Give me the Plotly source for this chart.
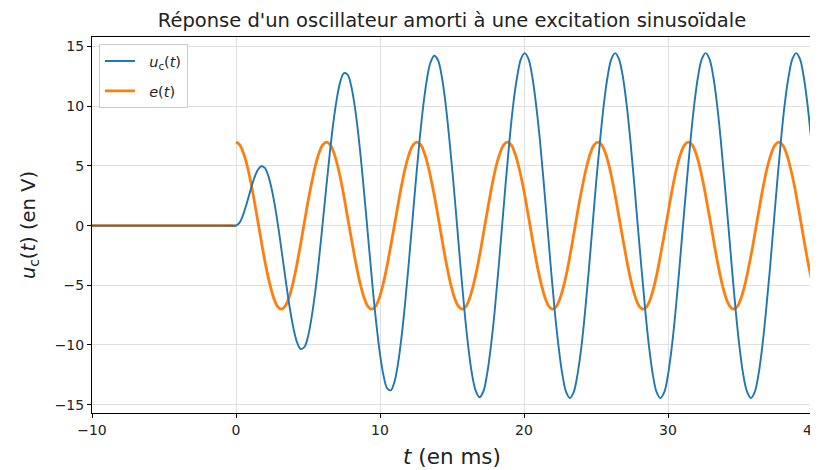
import plotly.graph_objects as go

# ---- data ----
# capacitor voltage u_c(t) (V), time t in ms
t_u_rest = [-10, -5, -0.5]
u_c_rest = [0, 0, 0]

t_u_start = [0.0, 0.25, 0.5, 0.75, 1.0, 1.25, 1.5, 1.75, 2.0, 2.25, 2.5, 2.75, 3.0, 3.25,
             3.5, 3.75, 4.0, 4.25, 4.5, 4.75, 5.0, 5.25, 5.5, 5.75, 6.0, 6.25, 6.5, 6.75,
             7.0, 7.25, 7.5, 7.75, 8.0, 8.25, 8.5, 8.75, 9.0, 9.25, 9.5, 9.75, 10.0, 10.25,
             10.5, 10.75, 11.0, 11.25, 11.5, 11.75, 12.0, 12.25, 12.5, 12.75, 13.0, 13.25, 13.5]
u_c_start = [0.0, 0.25, 0.92, 1.88, 2.93, 3.91, 4.63, 4.97, 4.83, 4.14, 2.94, 1.32, -0.66, -2.83,
             -5.0, -7.01, -8.65, -9.81, -10.34, -10.17, -9.30, -7.69, -5.58, -2.97, -0.03, 2.98, 5.91, 8.55,
             10.62, 12.08, 12.77, 12.65, 11.70, 9.98, 7.58, 4.67, 1.40, -1.98, -5.30, -8.28, -10.77, -12.59,
             -13.63, -13.80, -13.10, -11.57, -9.28, -6.41, -3.11, 0.40, 3.90, 7.17, 9.99, 12.20, 13.64]

t_u_late = [13.77, 14.03, 14.29, 14.55, 14.81, 15.08, 15.34, 15.60, 15.86, 16.12, 16.38, 16.65,
            16.91, 17.17, 17.43, 17.69, 17.96, 18.22, 18.48, 18.74, 19.00, 19.26, 19.53, 19.79,
            20.05, 20.31, 20.57, 20.83, 21.10, 21.36, 21.62, 21.88, 22.14, 22.41, 22.67, 22.93,
            23.19, 23.45, 23.71, 23.98, 24.24, 24.50, 24.76, 25.02, 25.29, 25.55, 25.81, 26.07,
            26.33, 26.59, 26.86, 27.12, 27.38, 27.64, 27.90, 28.17, 28.43, 28.69, 28.95, 29.21,
            29.47, 29.74, 30.00, 30.26, 30.52, 30.78, 31.04, 31.31, 31.57, 31.83, 32.09, 32.35,
            32.62, 32.88, 33.14, 33.40, 33.66, 33.92, 34.19, 34.45, 34.71, 34.97, 35.23, 35.50,
            35.76, 36.02, 36.28, 36.54, 36.80, 37.07, 37.33, 37.59, 37.85, 38.11, 38.38, 38.64,
            38.90, 39.16, 39.42, 39.68, 40.00]
u_c_late = [14.23, 13.85, 12.49, 10.26, 7.31, 3.86, 0.18, -3.55, -7.05, -10.05, -12.37, -13.85,
            -14.38, -13.92, -12.49, -10.22, -7.23, -3.74, 0.0, 3.74, 7.23, 10.22, 12.51, 13.96,
            14.45, 13.96, 12.51, 10.22, 7.23, 3.74, 0.0, -3.74, -7.23, -10.22, -12.51, -13.96,
            -14.45, -13.96, -12.51, -10.22, -7.23, -3.74, 0.0, 3.74, 7.23, 10.22, 12.51, 13.96,
            14.45, 13.96, 12.51, 10.22, 7.23, 3.74, 0.0, -3.74, -7.23, -10.22, -12.51, -13.96,
            -14.45, -13.96, -12.51, -10.22, -7.23, -3.74, 0.0, 3.74, 7.23, 10.22, 12.51, 13.96,
            14.45, 13.96, 12.51, 10.22, 7.23, 3.74, 0.0, -3.74, -7.23, -10.22, -12.51, -13.96,
            -14.45, -13.96, -12.51, -10.22, -7.23, -3.74, 0.0, 3.74, 7.23, 10.22, 12.51, 13.96,
            14.45, 13.96, 12.51, 10.22, 6.5]

# excitation e(t) (V): zero before t = 0
t_e_before = [-10, 0]
e_before = [0, 0]
t_e = [0.00, 0.26, 0.52, 0.79, 1.05, 1.31, 1.57, 1.83, 2.09, 2.36, 2.62, 2.88,
       3.14, 3.40, 3.67, 3.93, 4.19, 4.45, 4.71, 4.97, 5.24, 5.50, 5.76, 6.02,
       6.28, 6.55, 6.81, 7.07, 7.33, 7.59, 7.85, 8.12, 8.38, 8.64, 8.90, 9.16,
       9.42, 9.69, 9.95, 10.21, 10.47, 10.73, 11.00, 11.26, 11.52, 11.78, 12.04, 12.30,
       12.57, 12.83, 13.09, 13.35, 13.61, 13.88, 14.14, 14.40, 14.66, 14.92, 15.18, 15.45,
       15.71, 15.97, 16.23, 16.49, 16.76, 17.02, 17.28, 17.54, 17.80, 18.06, 18.33, 18.59,
       18.85, 19.11, 19.37, 19.63, 19.90, 20.16, 20.42, 20.68, 20.94, 21.21, 21.47, 21.73,
       21.99, 22.25, 22.51, 22.78, 23.04, 23.30, 23.56, 23.82, 24.09, 24.35, 24.61, 24.87,
       25.13, 25.39, 25.66, 25.92, 26.18, 26.44, 26.70, 26.97, 27.23, 27.49, 27.75, 28.01,
       28.27, 28.54, 28.80, 29.06, 29.32, 29.58, 29.85, 30.11, 30.37, 30.63, 30.89, 31.15,
       31.42, 31.68, 31.94, 32.20, 32.46, 32.72, 32.99, 33.25, 33.51, 33.77, 34.03, 34.30,
       34.56, 34.82, 35.08, 35.34, 35.60, 35.87, 36.13, 36.39, 36.65, 36.91, 37.18, 37.44,
       37.70, 37.96, 38.22, 38.48, 38.75, 39.01, 39.27, 39.53, 39.79, 40.00]
e = [7, 6.76, 6.06, 4.95, 3.5, 1.81, 0, -1.81, -3.5, -4.95, -6.06, -6.76,
     -7, -6.76, -6.06, -4.95, -3.5, -1.81, 0, 1.81, 3.5, 4.95, 6.06, 6.76,
     7, 6.76, 6.06, 4.95, 3.5, 1.81, 0, -1.81, -3.5, -4.95, -6.06, -6.76,
     -7, -6.76, -6.06, -4.95, -3.5, -1.81, 0, 1.81, 3.5, 4.95, 6.06, 6.76,
     7, 6.76, 6.06, 4.95, 3.5, 1.81, 0, -1.81, -3.5, -4.95, -6.06, -6.76,
     -7, -6.76, -6.06, -4.95, -3.5, -1.81, 0, 1.81, 3.5, 4.95, 6.06, 6.76,
     7, 6.76, 6.06, 4.95, 3.5, 1.81, 0, -1.81, -3.5, -4.95, -6.06, -6.76,
     -7, -6.76, -6.06, -4.95, -3.5, -1.81, 0, 1.81, 3.5, 4.95, 6.06, 6.76,
     7, 6.76, 6.06, 4.95, 3.5, 1.81, 0, -1.81, -3.5, -4.95, -6.06, -6.76,
     -7, -6.76, -6.06, -4.95, -3.5, -1.81, 0, 1.81, 3.5, 4.95, 6.06, 6.76,
     7, 6.76, 6.06, 4.95, 3.5, 1.81, 0, -1.81, -3.5, -4.95, -6.06, -6.76,
     -7, -6.76, -6.06, -4.95, -3.5, -1.81, 0, 1.81, 3.5, 4.95, 6.06, 6.76,
     7, 6.76, 6.06, 4.95, 3.5, 1.81, 0, -1.81, -3.5, -4.67]

x_ticks = [-10, 0, 10, 20, 30, 40]
y_ticks = [-15, -10, -5, 0, 5, 10, 15]

assert len(t_u_start) == len(u_c_start)
assert len(t_u_late) == len(u_c_late)
assert len(t_e) == len(e)

t_u = t_u_rest + t_u_start + t_u_late
u_c = u_c_rest + u_c_start + u_c_late

BLUE = "#1f77b4"
ORANGE = "#ff7f0e"
FONT = "DejaVu Sans"
TXT = "#222222"
NB = "\u00a0\u00a0"

fig = go.Figure()
fig.add_trace(go.Scatter(
    x=t_e_before + [None] + t_e, y=e_before + [None] + e,
    mode="lines",
    line=dict(color=ORANGE, width=2.8, shape="spline", smoothing=1, simplify=False),
    name=NB + "<i>e</i>(<i>t</i>)", legendrank=2, legendgroup="e", connectgaps=False))
fig.add_trace(go.Scatter(
    x=t_u, y=u_c, mode="lines",
    line=dict(color=BLUE, width=1.9, shape="spline", smoothing=1, simplify=False),
    name=NB + "<i>u</i><sub>c</sub>(<i>t</i>)", legendrank=1, legendgroup="u"))

axis_common = dict(
    showline=True, linecolor="black", linewidth=1, mirror=True,
    ticks="outside", ticklen=4, tickwidth=1, tickcolor="black",
    showgrid=True, gridcolor="#e0e0e0", gridwidth=1,
    zeroline=False, automargin=False, ticklabeloverflow="allow",
    tickfont=dict(family=FONT, size=14, color=TXT),
)

fig.update_xaxes(range=[-10, 40], tickvals=x_ticks,
                 title=dict(text="<i>t</i> (en ms)", font=dict(family=FONT, size=21.5, color=TXT),
                            standoff=12),
                 **axis_common)
fig.update_yaxes(range=[-15.7, 15.8], tickvals=y_ticks,
                 title=dict(text="<i>u</i><sub>c</sub>(<i>t</i>) (en V)",
                            font=dict(family=FONT, size=19.5, color=TXT), standoff=13),
                 **axis_common)

# the page body adds an 8 px offset, so the figure is 8 px smaller than the window
fig.update_layout(
    width=810, height=462,
    margin=dict(l=84, r=6, t=29, b=57),
    paper_bgcolor="white", plot_bgcolor="white",
    font=dict(family=FONT, color=TXT),
    title=dict(text="Réponse d'un oscillateur amorti à une excitation sinusoïdale",
               font=dict(family=FONT, size=19.5, color=TXT),
               x=0.5, xref="paper", xanchor="center",
               y=1 - 12 / 462, yref="container", yanchor="middle"),
    legend=dict(x=0.0097, y=0.981, xanchor="left", yanchor="top",
                bgcolor="rgba(255,255,255,0.85)", bordercolor="#cccccc", borderwidth=1,
                font=dict(family=FONT, size=14.5, color=TXT),
                tracegroupgap=8, itemwidth=30),
    showlegend=True,
)

fig.write_html("out.html")
